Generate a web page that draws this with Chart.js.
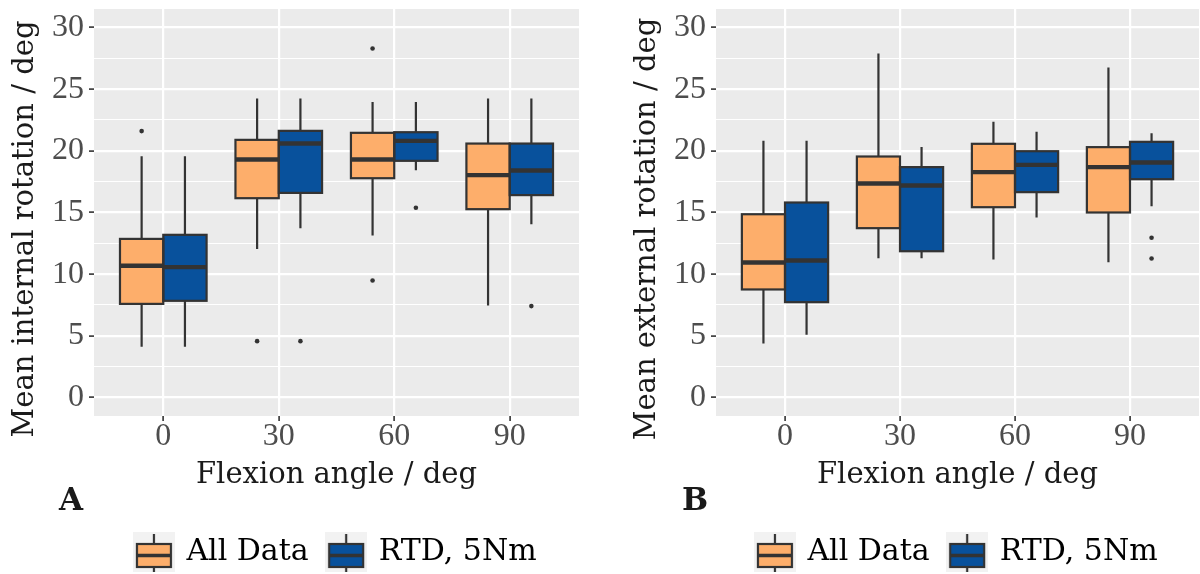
<!DOCTYPE html>
<html><head><meta charset="utf-8">
<script src="https://cdn.jsdelivr.net/npm/chart.js@4.4.1/dist/chart.umd.min.js"></script>
<style>
html,body{margin:0;padding:0;background:#fff;}
#wrap{position:relative;width:1200px;height:574px;overflow:hidden;background:#fff;}
.panel{position:absolute;top:0;width:600px;height:574px;}
canvas{display:block;}
</style></head><body>
<div id="wrap">
<div class="panel" style="left:0"><canvas id="cA" width="600" height="574"></canvas></div>
<div class="panel" style="left:600px"><canvas id="cB" width="600" height="574"></canvas></div>
</div>
<script>
// ---------- data ----------
const categories = ['0', '30', '60', '90'];
const seriesNames = ['All Data', 'RTD, 5Nm'];
const seriesColors = ['#fdae6b', '#08519c'];
const yTickValues = [0, 5, 10, 15, 20, 25, 30];
const yLimits = [0, 30];

// Panel A: mean internal rotation
const intAllLow  = [4.11, 12.05, 13.14, 7.46];
const intAllQ1   = [7.59, 16.16, 17.78, 15.27];
const intAllMed  = [10.68, 19.30, 19.30, 18.03];
const intAllQ3   = [12.86, 20.89, 21.46, 20.59];
const intAllHigh = [19.57, 24.24, 23.95, 24.24];
const intAllOut  = [[21.6], [4.57], [28.3, 9.49], []];

const intRtdLow  = [4.11, 13.73, 18.43, 14.05];
const intRtdQ1   = [7.84, 16.59, 19.19, 16.41];
const intRtdMed  = [10.57, 20.59, 20.81, 18.41];
const intRtdQ3   = [13.19, 21.62, 21.51, 20.59];
const intRtdHigh = [19.57, 24.24, 23.95, 24.24];
const intRtdOut  = [[], [4.57], [15.38], [7.41]];

// Panel B: mean external rotation
const extAllLow  = [4.38, 11.30, 11.19, 10.97];
const extAllQ1   = [8.76, 13.73, 15.43, 15.00];
const extAllMed  = [10.95, 17.35, 18.27, 18.68];
const extAllQ3   = [14.86, 19.54, 20.57, 20.30];
const extAllHigh = [20.81, 27.89, 22.35, 26.76];
const extAllOut  = [[], [], [], []];

const extRtdLow  = [5.08, 11.30, 14.59, 15.51];
const extRtdQ1   = [7.73, 11.86, 16.65, 17.70];
const extRtdMed  = [11.11, 17.19, 18.86, 19.05];
const extRtdQ3   = [15.81, 18.68, 19.97, 20.73];
const extRtdHigh = [20.81, 20.32, 21.54, 21.43];
const extRtdOut  = [[], [], [], [12.95, 11.27]];

// ---------- helpers ----------
const INK = '#333333';
const TITLE_FONT = 'DejaVu Serif';
const TICK_FONT = 'Liberation Serif';

function keyGlyph(fill) {
  const c = document.createElement('canvas');
  c.width = 42; c.height = 40;
  const g = c.getContext('2d');
  g.fillStyle = '#f2f2f2';
  g.fillRect(0, 0, 42, 40);
  g.strokeStyle = INK; g.lineWidth = 2.2;
  g.beginPath(); g.moveTo(21, 2); g.lineTo(21, 12); g.moveTo(21, 35); g.lineTo(21, 40); g.stroke();
  g.fillStyle = fill;
  g.fillRect(4, 12, 34, 23);
  g.strokeRect(4, 12, 34, 23);
  g.lineWidth = 3.6;
  g.beginPath(); g.moveTo(4, 23.5); g.lineTo(38, 23.5); g.stroke();
  return c;
}
const keyGlyphs = seriesColors.map(keyGlyph);

const yExpand = 0.05 * (yLimits[1] - yLimits[0]);
const yGrid = [];
yTickValues.forEach((v, i) => {
  yGrid.push(v);
  if (i < yTickValues.length - 1) yGrid.push((v + yTickValues[i + 1]) / 2);
});
const isMajor = v => yTickValues.includes(v);

function buildChart(id, o) {
  const stats = o.stats;
  const datasets = stats.map((s, d) => ({
    label: seriesNames[d],
    data: categories.map((c, i) => ({ x: i, y: [s.q1[i], s.q3[i]] })),
    backgroundColor: seriesColors[d],
    borderWidth: 0,
    borderSkipped: false,
    categoryPercentage: 0.75,
    barPercentage: 1.0
  }));

  const boxPlugin = {
    id: 'boxdraw',
    beforeDraw(chart) {
      const { ctx, chartArea: ca } = chart;
      ctx.save();
      ctx.fillStyle = '#ebebeb';
      ctx.fillRect(ca.left, ca.top, ca.right - ca.left, ca.bottom - ca.top);
      ctx.restore();
    },
    beforeDatasetsDraw(chart) {
      const { ctx } = chart; const ys = chart.scales.y;
      ctx.save();
      ctx.strokeStyle = INK; ctx.lineWidth = 2.2; ctx.lineCap = 'butt';
      stats.forEach((s, d) => {
        chart.getDatasetMeta(d).data.forEach((el, i) => {
          ctx.beginPath();
          ctx.moveTo(el.x, ys.getPixelForValue(s.high[i]));
          ctx.lineTo(el.x, ys.getPixelForValue(s.q3[i]));
          ctx.moveTo(el.x, ys.getPixelForValue(s.q1[i]));
          ctx.lineTo(el.x, ys.getPixelForValue(s.low[i]));
          ctx.stroke();
        });
      });
      ctx.restore();
    },
    afterDatasetsDraw(chart) {
      const { ctx } = chart; const ys = chart.scales.y;
      ctx.save();
      ctx.strokeStyle = INK; ctx.fillStyle = INK;
      stats.forEach((s, d) => {
        chart.getDatasetMeta(d).data.forEach((el, i) => {
          const half = el.width / 2;
          const yq1 = ys.getPixelForValue(s.q1[i]);
          const yq3 = ys.getPixelForValue(s.q3[i]);
          const ym = ys.getPixelForValue(s.med[i]);
          ctx.lineWidth = 2.2;
          ctx.strokeRect(el.x - half, yq3, 2 * half, yq1 - yq3);
          ctx.lineWidth = 4.4;
          ctx.beginPath();
          ctx.moveTo(el.x - half, ym); ctx.lineTo(el.x + half, ym);
          ctx.stroke();
          s.out[i].forEach(v => {
            ctx.beginPath();
            ctx.arc(el.x, ys.getPixelForValue(v), 2.3, 0, Math.PI * 2);
            ctx.fill();
          });
        });
      });
      ctx.restore();
    },
    afterDraw(chart) {
      const { ctx, chartArea: ca } = chart;
      ctx.save();
      ctx.fillStyle = '#1a1a1a';
      ctx.font = '29px "' + TITLE_FONT + '"';
      ctx.translate(o.yTitleX, (ca.top + ca.bottom) / 2 + 16.5);
      ctx.rotate(-Math.PI / 2);
      ctx.textAlign = 'center';
      ctx.textBaseline = 'alphabetic';
      ctx.fillText(o.yTitle, 0, 0);
      ctx.restore();
      ctx.save();
      ctx.fillStyle = '#1a1a1a';
      ctx.font = 'bold 31px "' + TITLE_FONT + '"';
      ctx.textAlign = 'left';
      ctx.textBaseline = 'alphabetic';
      ctx.fillText(o.letter, o.letterX, 510);
      ctx.restore();
    }
  };

  return new Chart(document.getElementById(id), {
    type: 'bar',
    data: { datasets },
    plugins: [boxPlugin],
    options: {
      responsive: false,
      animation: false,
      devicePixelRatio: 1,
      layout: { padding: { top: 9, left: 0, right: o.padRight, bottom: -3 } },
      scales: {
        x: {
          type: 'linear',
          min: -0.6,
          max: categories.length - 1 + 0.6,
          offset: false,
          border: { display: false },
          grid: { color: '#ffffff', lineWidth: 2.2, offset: false, drawTicks: true, tickColor: INK, tickLength: 5, tickWidth: 1.6 },
          afterBuildTicks: s => { s.ticks = categories.map((c, i) => ({ value: i })); },
          ticks: {
            callback: v => categories[v] ?? '',
            autoSkip: false, maxRotation: 0, padding: 0,
            color: '#4d4d4d',
            font: { family: TICK_FONT, size: 32, lineHeight: 1 }
          },
          title: {
            display: true, text: 'Flexion angle / deg', color: '#1a1a1a',
            font: { family: TITLE_FONT, size: 29, lineHeight: 1.2 },
            padding: { top: 0, bottom: 24.6 }
          },
          afterFit: s => { s.height = 101; s.paddingLeft = 0; s.paddingRight = 0; s.paddingTop = 0; s.paddingBottom = 0; }
        },
        y: {
          type: 'linear',
          min: yLimits[0] - yExpand,
          max: yLimits[1] + yExpand,
          border: { display: false },
          grid: {
            color: '#ffffff',
            lineWidth: c => (c.tick && !isMajor(c.tick.value)) ? 1.1 : 2.2,
            drawTicks: true,
            tickColor: c => (c.tick && !isMajor(c.tick.value)) ? 'rgba(0,0,0,0)' : INK,
            tickLength: 5, tickWidth: 1.6
          },
          afterBuildTicks: s => { s.ticks = yGrid.map(v => ({ value: v })); },
          ticks: {
            callback: v => isMajor(v) ? String(v) : '',
            autoSkip: false, padding: 5,
            color: '#4d4d4d',
            font: { family: TICK_FONT, size: 32, lineHeight: 1 }
          },
          afterFit: s => { s.width = o.yAxisWidth; s.paddingTop = 0; s.paddingBottom = 0; s.paddingLeft = 0; s.paddingRight = 0; }
        }
      },
      plugins: {
        tooltip: { enabled: false },
        title: { display: false },
        legend: {
          display: true, position: 'bottom', fullSize: false, weight: 1000,
          labels: {
            usePointStyle: true, pointStyleWidth: 35, padding: 20,
            color: '#1a1a1a',
            font: { family: TITLE_FONT, size: 30 },
            generateLabels: chart => chart.data.datasets.map((ds, i) => ({
              text: ds.label, pointStyle: keyGlyphs[i], fillStyle: ds.backgroundColor,
              strokeStyle: INK, lineWidth: 0, hidden: false, datasetIndex: i
            }))
          }
        }
      }
    }
  });
}

buildChart('cA', {
  stats: [
    { low: intAllLow, q1: intAllQ1, med: intAllMed, q3: intAllQ3, high: intAllHigh, out: intAllOut },
    { low: intRtdLow, q1: intRtdQ1, med: intRtdMed, q3: intRtdQ3, high: intRtdHigh, out: intRtdOut }
  ],
  yTitle: 'Mean internal rotation / deg', yTitleX: 33,
  letter: 'A', letterX: 59,
  yAxisWidth: 94, padRight: 21
});
buildChart('cB', {
  stats: [
    { low: extAllLow, q1: extAllQ1, med: extAllMed, q3: extAllQ3, high: extAllHigh, out: extAllOut },
    { low: extRtdLow, q1: extRtdQ1, med: extRtdMed, q3: extRtdQ3, high: extRtdHigh, out: extRtdOut }
  ],
  yTitle: 'Mean external rotation / deg', yTitleX: 55,
  letter: 'B', letterX: 82,
  yAxisWidth: 116, padRight: 1
});
</script>
</body></html>
